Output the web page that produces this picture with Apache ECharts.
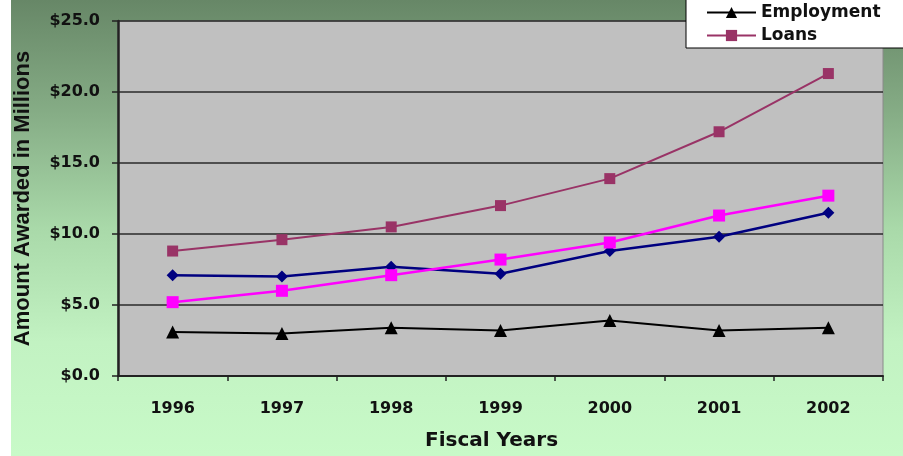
<!DOCTYPE html>
<html>
<head>
<meta charset="utf-8">
<title>Amount Awarded in Millions</title>
<script src="https://cdn.jsdelivr.net/npm/echarts@6/dist/echarts.min.js"></script>
<style>
  html, body { margin: 0; padding: 0; background: #fff; }
  #main { width: 903px; height: 456px; }
</style>
</head>
<body>
<div id="main"></div>
<script>
// 数据
var years = ['1996', '1997', '1998', '1999', '2000', '2001', '2002']
var loans = [8.8, 9.6, 10.5, 12.0, 13.9, 17.2, 21.3]
var seriesBlue = [7.1, 7.0, 7.7, 7.2, 8.8, 9.8, 11.5]
var seriesPink = [5.2, 6.0, 7.1, 8.2, 9.4, 11.3, 12.7]
var employment = [3.1, 3.0, 3.4, 3.2, 3.9, 3.2, 3.4]
var legendNames = ['Employment', 'Loans']

var chart = echarts.init(document.getElementById('main'))

var option = {
  animation: false,
  // 绿色渐变背景
  backgroundColor: {
    type: 'linear', x: 0, y: 0, x2: 0, y2: 1,
    colorStops: [
      { offset: 0, color: '#678767' },
      { offset: 0.25, color: '#86ad86' },
      { offset: 0.5, color: '#a9d9a9' },
      { offset: 0.75, color: '#c2f2c2' },
      { offset: 1, color: '#c8fac8' }
    ]
  },
  graphic: [
    {
      type: 'rect',
      left: 0, top: 0,
      shape: { width: 11, height: 456 },
      style: { fill: '#ffffff' },
      z: 100
    }
  ],
  legend: {
    data: legendNames,
    orient: 'vertical',
    left: 686,
    top: -2,
    padding: [6, 40, 4, 20],
    itemGap: 6,
    itemWidth: 49,
    itemHeight: 14,
    backgroundColor: '#ffffff',
    borderColor: '#000000',
    borderWidth: 1,
    borderRadius: 0,
    textStyle: {
      fontFamily: 'DejaVu Sans',
      fontWeight: 'bold',
      fontSize: 17,
      color: '#111'
    }
  },
  grid: {
    left: 118,
    right: 20,
    top: 21,
    bottom: 77,
    show: true,
    backgroundColor: '#c0c0c0',
    borderColor: '#8a8a8a',
    borderWidth: 1
  },
  xAxis: {
    type: 'category',
    data: years,
    boundaryGap: true,
    name: 'Fiscal Years',
    nameLocation: 'middle',
    nameGap: 55,
    nameTextStyle: {
      fontFamily: 'DejaVu Sans',
      fontWeight: 'bold',
      fontSize: 20,
      color: '#111',
      padding: [0, 18, 0, 0]
    },
    axisLine: { show: true, lineStyle: { color: '#222', width: 2 } },
    axisTick: { show: true, length: 5, lineStyle: { color: '#222', width: 1.5 } },
    axisLabel: {
      margin: 25,
      fontFamily: 'DejaVu Sans',
      fontWeight: 'bold',
      fontSize: 16,
      color: '#111'
    }
  },
  yAxis: {
    type: 'value',
    min: 0,
    max: 25,
    interval: 5,
    name: 'Amount Awarded in Millions',
    nameLocation: 'middle',
    nameRotate: 90,
    nameGap: 84,
    nameTextStyle: {
      fontFamily: 'Liberation Sans',
      fontWeight: 'bold',
      fontSize: 22,
      color: '#111'
    },
    axisLine: { show: true, lineStyle: { color: '#222', width: 2.5 } },
    axisTick: { show: true, length: 6, lineStyle: { color: '#222', width: 1.5 } },
    axisLabel: {
      margin: 18,
      fontFamily: 'DejaVu Sans',
      fontWeight: 'bold',
      fontSize: 16,
      color: '#111',
      formatter: function (v) {
        return '$' + v.toFixed(1)
      }
    },
    splitLine: { show: true, lineStyle: { color: '#2a2a2a', width: 1.5 } }
  },
  series: [
    {
      name: 'Series A',
      type: 'line',
      data: seriesBlue,
      symbol: 'diamond',
      symbolSize: 12,
      lineStyle: { color: '#000080', width: 2.5 },
      itemStyle: { color: '#000080' }
    },
    {
      name: 'Series B',
      type: 'line',
      data: seriesPink,
      symbol: 'rect',
      symbolSize: 12,
      lineStyle: { color: '#ff00ff', width: 2.5 },
      itemStyle: { color: '#ff00ff' }
    },
    {
      name: 'Loans',
      type: 'line',
      data: loans,
      symbol: 'rect',
      symbolSize: 11,
      lineStyle: { color: '#993366', width: 2 },
      itemStyle: { color: '#993366' }
    },
    {
      name: 'Employment',
      type: 'line',
      data: employment,
      symbol: 'triangle',
      symbolSize: 13,
      lineStyle: { color: '#000000', width: 2 },
      itemStyle: { color: '#000000' }
    }
  ]
}

chart.setOption(option)
</script>
</body>
</html>
